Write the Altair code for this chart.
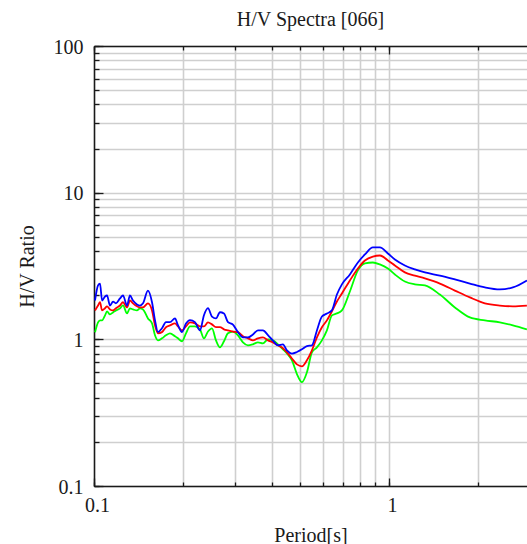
import altair as alt
import pandas as pd

# Period [s]
period = [0.1008, 0.1032, 0.1048, 0.1065, 0.1090, 0.1107, 0.1133, 0.1160, 0.1187, 0.1225,
          0.1254, 0.1294, 0.1324, 0.1356, 0.1399, 0.1432, 0.1466, 0.1524, 0.1573, 0.1610,
          0.1648, 0.1700, 0.1754, 0.1810, 0.1882, 0.1926, 0.1988, 0.2051, 0.2116, 0.2200,
          0.2287, 0.2360, 0.2435, 0.2512, 0.2592, 0.2674, 0.2759, 0.2846, 0.2959, 0.3077,
          0.3200, 0.3327, 0.3459, 0.3597, 0.3740, 0.3889, 0.4044, 0.4205, 0.4372, 0.4511,
          0.4690, 0.4877, 0.5071, 0.5273, 0.5483, 0.5701, 0.5928, 0.6163, 0.6409, 0.6664,
          0.6929, 0.7375, 0.7850, 0.8292, 0.8825, 0.9320, 0.9922, 1.048, 1.133, 1.225,
          1.3245, 1.489, 1.674, 1.882, 2.116, 2.378, 2.633, 2.938]

blue = [1.84, 2.33, 2.40, 1.84, 1.96, 1.99, 1.70, 1.81, 1.76, 1.90,
        1.99, 1.70, 1.99, 1.84, 1.73, 1.70, 1.76, 2.15, 1.79, 1.35,
        1.12, 1.19, 1.31, 1.31, 1.39, 1.25, 1.12, 1.28, 1.35, 1.31,
        1.15, 1.46, 1.63, 1.43, 1.39, 1.53, 1.50, 1.31, 1.26, 1.12,
        1.03, 1.03, 1.08, 1.15, 1.15, 1.07, 0.98, 0.91, 0.925, 0.84,
        0.80, 0.82, 0.855, 0.90, 0.91, 1.15, 1.43, 1.50, 1.575, 2.02,
        2.37, 2.77, 3.34, 3.79, 4.23, 4.23, 3.85, 3.50, 3.19, 3.00,
        2.86, 2.72, 2.56, 2.40, 2.26, 2.19, 2.26, 2.52]

red = [1.575, 1.70, 1.79, 1.575, 1.63, 1.68, 1.60, 1.575, 1.63, 1.70,
       1.79, 1.65, 1.84, 1.76, 1.68, 1.65, 1.65, 1.76, 1.575, 1.245,
       1.10, 1.12, 1.21, 1.245, 1.285, 1.225, 1.15, 1.225, 1.305, 1.285,
       1.225, 1.225, 1.305, 1.265, 1.21, 1.21, 1.17, 1.15, 1.13, 1.12,
       1.05, 1.016, 0.984, 1.016, 1.03, 0.984, 0.954, 0.91, 0.87, 0.816,
       0.74, 0.675, 0.655, 0.72, 0.842, 1.032, 1.21, 1.347, 1.55, 1.81,
       2.055, 2.52, 3.04, 3.45, 3.67, 3.73, 3.45, 3.19, 2.86, 2.72,
       2.60, 2.40, 2.15, 1.93, 1.76, 1.70, 1.68, 1.70]

green = [1.116, 1.305, 1.347, 1.347, 1.456, 1.55, 1.48, 1.526, 1.575, 1.625,
         1.703, 1.503, 1.625, 1.60, 1.575, 1.625, 1.60, 1.389, 1.285, 1.065,
         0.984, 1.016, 1.065, 1.099, 1.05, 1.016, 0.97, 1.099, 1.225, 1.225,
         1.17, 1.016, 1.13, 1.188, 0.984, 0.882, 0.97, 1.099, 1.13, 1.065,
         0.954, 0.91, 0.925, 0.954, 0.939, 1.0, 0.984, 0.925, 0.855, 0.803,
         0.72, 0.58, 0.51, 0.596, 0.816, 0.882, 0.984, 1.15, 1.456, 1.503,
         1.575, 2.12, 2.95, 3.29, 3.34, 3.24, 3.04, 2.77, 2.48, 2.37,
         2.33, 2.02, 1.65, 1.41, 1.347, 1.305, 1.245, 1.17]

series_names = ["green", "red", "blue"]
series_colors = ["#00ff00", "#ff0000", "#0000ff"]

x_grid = [0.1, 0.2, 0.3, 0.4, 0.5, 0.6, 0.7, 0.8, 0.9, 1, 2]
x_major = [0.1, 1]
y_grid = [0.1, 0.2, 0.3, 0.4, 0.5, 0.6, 0.7, 0.8, 0.9,
          1, 2, 3, 4, 5, 6, 7, 8, 9,
          10, 20, 30, 40, 50, 60, 70, 80, 90, 100]
y_major = [0.1, 1, 10, 100]

assert len(period) == len(blue) == len(red) == len(green)

rows = []
for name, vals in zip(series_names, (green, red, blue)):
    for t, v in zip(period, vals):
        rows.append({"period": t, "ratio": v, "series": name})
df = pd.DataFrame(rows)

FONT = "Liberation Serif"
INK = "#1a1a1a"
xs = alt.Scale(type="log", domain=[0.1, 2.94], nice=False)
ys = alt.Scale(type="log", domain=[0.1, 100], nice=False)

main_x = alt.Axis(orient="bottom", values=x_grid, format="~g",
                  labelExpr="(datum.value == 0.1 || datum.value == 1) ? datum.label : ''",
                  ticks=False, tickSize=0, labelPadding=9, labelFont=FONT, labelFontSize=20,
                  labelColor=INK, domain=True, domainColor=INK, domainWidth=1.5,
                  grid=True, gridColor="#cfcfcf", gridWidth=1.6,
                  title="Period[s]", titleFont=FONT, titleFontSize=20, titleFontWeight="normal",
                  titleColor=INK, titlePadding=10, labelFlush=False, labelOffset=3)
main_y = alt.Axis(orient="left", values=y_grid, format="~g",
                  labelExpr="(datum.value == 0.1 || datum.value == 1 || datum.value == 10 || datum.value == 100) ? datum.label : ''",
                  ticks=False, tickSize=0, labelPadding=11, labelFont=FONT, labelFontSize=20,
                  labelColor=INK, domain=True, domainColor=INK, domainWidth=1.5,
                  grid=True, gridColor="#cfcfcf", gridWidth=1.6,
                  title="H/V Ratio", titleFont=FONT, titleFontSize=20, titleFontWeight="normal",
                  titleColor=INK, titlePadding=16, labelFlush=False, labelOffset=1)

lines = alt.Chart(df).mark_line(strokeWidth=1.8, clip=True, interpolate="monotone").encode(
    x=alt.X("period:Q", scale=xs, axis=main_x),
    y=alt.Y("ratio:Q", scale=ys, axis=main_y),
    color=alt.Color("series:N", scale=alt.Scale(domain=series_names, range=series_colors), legend=None),
)


def tick_axis(orient, values, size):
    return alt.Axis(orient=orient, values=values, offset=-size, tickSize=size,
                    tickColor=INK, tickWidth=1.3, domain=False, labels=False,
                    grid=False, title=None)


def ghost(xaxis, yaxis):
    return alt.Chart(df).mark_line(strokeOpacity=0).encode(
        x=alt.X("period:Q", scale=xs, axis=xaxis),
        y=alt.Y("ratio:Q", scale=ys, axis=yaxis),
        detail="series:N",
    )


top_domain = alt.Axis(orient="top", values=x_grid, ticks=False, labels=False, grid=False,
                      domain=True, domainColor=INK, domainWidth=1.5, title=None)

layers = [
    lines,
    ghost(tick_axis("bottom", x_grid, 4), tick_axis("left", y_grid, 5)),
    ghost(tick_axis("bottom", x_major, 8), tick_axis("left", y_major, 9)),
    ghost(top_domain, None),
    ghost(tick_axis("top", x_grid, 4), None),
    ghost(tick_axis("top", x_major, 8), None),
]

chart = alt.layer(*layers).resolve_axis(x="independent", y="independent").properties(
    width=433, height=440,
    padding={"left": 94, "top": 46, "right": 0, "bottom": 58},
    autosize=alt.AutoSizeParams(type="none"),
    title=alt.TitleParams("H/V Spectra [066]", font=FONT, fontSize=20, fontWeight="normal",
                          color=INK, anchor="middle", offset=7),
).configure_view(stroke=None).configure(background="white")

chart.save("out.html", embed_options={"renderer": "svg", "actions": False})
